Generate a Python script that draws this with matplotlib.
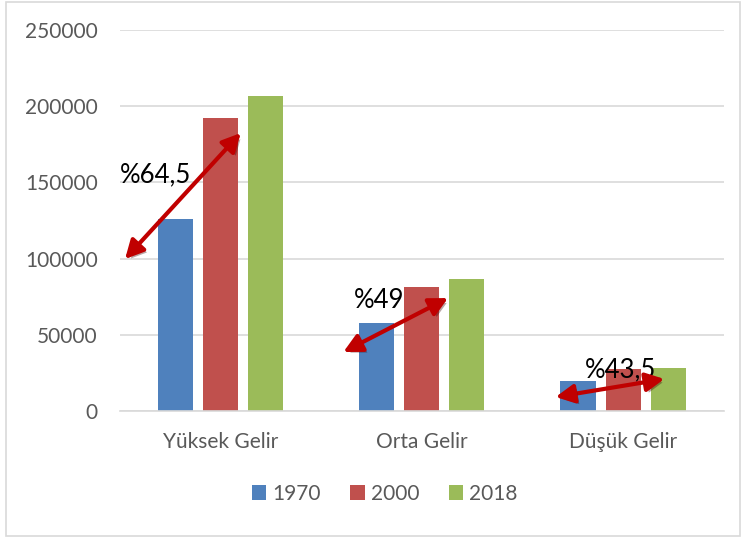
import numpy as np
import matplotlib.pyplot as plt
import matplotlib.patheffects as pe
from matplotlib.patches import Rectangle

plt.rcParams['font.family'] = ['Lato', 'DejaVu Sans']

# Data
categories = ['Yüksek Gelir', 'Orta Gelir', 'Düşük Gelir']
years = ['1970', '2000', '2018']
v1970 = [126000, 58000, 19700]
v2000 = [192000, 81500, 27600]
v2018 = [207000, 86500, 28200]
growth_labels = ['%64,5', '%49', '%43,5']

colors = ['#4F81BD', '#C0504D', '#9BBB59']
gray_text = '#595959'

fig = plt.figure(figsize=(7.44, 5.39), dpi=100)
ax = fig.add_axes([0.1613, 0.2375, 0.8114, 0.7068])

x = np.arange(len(categories))
width = 0.174
step = 0.224
for i, (vals, yr) in enumerate(zip([v1970, v2000, v2018], years)):
    ax.bar(x + (i - 1) * step, vals, width, color=colors[i], label=yr, zorder=2)

ax.set_xlim(-0.5, 2.5)
ax.set_ylim(0, 250000)
ax.set_yticks(np.arange(0, 250001, 50000))
ax.set_xticks(x)
ax.set_xticklabels(categories)
ax.tick_params(axis='both', length=0, labelsize=15, colors=gray_text)
ax.tick_params(axis='x', pad=15)
ax.tick_params(axis='y', pad=16)
ax.yaxis.grid(True, color='#D9D9D9', linewidth=1.2, zorder=0)
ax.set_axisbelow(True)
for s in ['top', 'right', 'left']:
    ax.spines[s].set_visible(False)
ax.spines['bottom'].set_color('#D9D9D9')
ax.spines['bottom'].set_linewidth(1.2)

# Growth arrows (start, end in data coords) and text positions
arrows = [((-0.475, 99700), (0.1, 182400)),
          ((0.61, 38700), (1.13, 74100)),
          ((1.665, 9200), (2.205, 21000))]
text_pos = [(-0.5, 155000), (0.66, 72800), (1.81, 26900)]

for (p0, p1), (tx, ty), lab in zip(arrows, text_pos, growth_labels):
    ax.text(tx, ty, lab, fontsize=18.5, color='black', ha='left', va='center', zorder=3)
    ax.annotate('', xy=p1, xytext=p0, zorder=4,
                arrowprops=dict(arrowstyle='<|-|>,head_length=0.55,head_width=0.28',
                                mutation_scale=20, color='#C00000', lw=3,
                                shrinkA=0, shrinkB=0,
                                path_effects=[pe.SimplePatchShadow(offset=(2, -2), alpha=0.35),
                                              pe.Normal()]))

fig.legend(loc='center', bbox_to_anchor=(0.517, 0.0835), ncol=3, frameon=False,
           fontsize=15, labelcolor=gray_text, handlelength=0.7, handleheight=0.7,
           handletextpad=0.3, columnspacing=1.4)

# outer border like the chart area
fig.patches.append(Rectangle((0.008, 0.006), 0.986, 0.99, transform=fig.transFigure,
                             fill=False, edgecolor='#D9D9D9', linewidth=1.2))

fig.savefig('out.png', dpi=100)
